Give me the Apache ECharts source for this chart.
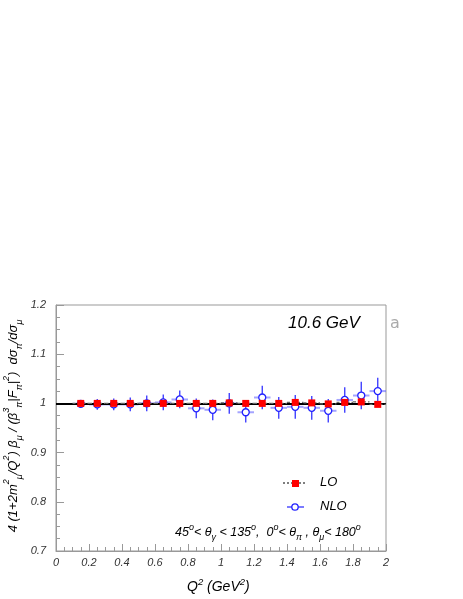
<!DOCTYPE html>
<html>
<head>
<meta charset="utf-8">
<script src="https://cdn.jsdelivr.net/npm/echarts@6/dist/echarts.min.js"></script>
<style>
html,body{margin:0;padding:0;background:#fff;}
#c{width:463px;height:599px;}
</style>
</head>
<body>
<div id="c"></div>
<script>
// ---- data ----
const q2 = [0.15,0.25,0.35,0.45,0.55,0.65,0.75,0.85,0.95,1.05,1.15,1.25,1.35,1.45,1.55,1.65,1.75,1.85,1.95];
const binHalfWidth = 0.05;
const loVals  = [1.000,1.000,1.000,1.000,1.000,1.000,1.000,1.000,1.000,1.001,1.000,1.000,1.000,1.002,1.001,0.999,1.002,1.003,0.998];
const loErr   = [0.002,0.002,0.002,0.002,0.002,0.002,0.002,0.002,0.002,0.002,0.002,0.002,0.002,0.002,0.002,0.002,0.002,0.002,0.002];
const nloVals = [0.999,0.998,0.998,0.998,1.000,1.002,1.008,0.990,0.987,1.000,0.982,1.012,0.991,0.993,0.991,0.985,1.007,1.016,1.025];
const nloErr  = [0.008,0.011,0.012,0.014,0.016,0.016,0.018,0.020,0.021,0.021,0.021,0.024,0.022,0.024,0.024,0.024,0.026,0.028,0.027];
const refLevel = 1.0;
const xTickLabels = ['0','0.2','0.4','0.6','0.8','1','1.2','1.4','1.6','1.8','2'];
const yTickLabels = ['0.7','0.8','0.9','1','1.1','1.2'];

const FONT = '"Liberation Sans", Arial, sans-serif';
const chart = echarts.init(document.getElementById('c'), null, {renderer:'canvas'});

const nloData = q2.map((x,i)=>[x, nloVals[i], nloErr[i]]);
const loData  = q2.map((x,i)=>[x, loVals[i], loErr[i]]);

function errRender(hColor, hWidth, hDash, vColor, vWidth){
  return function(params, api){
    const x = api.value(0), y = api.value(1), e = api.value(2);
    const l = api.coord([x - binHalfWidth, y]);
    const r = api.coord([x + binHalfWidth, y]);
    const t = api.coord([x, y + e]);
    const b = api.coord([x, y - e]);
    return {type:'group', children:[
      {type:'line', shape:{x1:l[0],y1:l[1],x2:r[0],y2:r[1]}, style:{stroke:hColor, lineWidth:hWidth, lineDash:hDash}},
      {type:'line', shape:{x1:t[0],y1:t[1],x2:b[0],y2:b[1]}, style:{stroke:vColor, lineWidth:vWidth}}
    ]};
  };
}

const labelStyle = {fontFamily:FONT, fontStyle:'italic', fontSize:11, color:'#333'};

const option = {
  animation:false,
  grid:{left:56, top:305, right:77, bottom:48, show:true, borderColor:'#999', borderWidth:1, backgroundColor:'transparent'},
  xAxis:{
    type:'value', min:0, max:2, interval:0.2,
    axisLine:{show:true, lineStyle:{color:'#999'}},
    axisTick:{show:true, inside:true, length:7, lineStyle:{color:'#999'}},
    minorTick:{show:true, splitNumber:4, length:4, lineStyle:{color:'#999'}},
    splitLine:{show:false},
    axisLabel:Object.assign({margin:6, formatter:(v)=>{const i=Math.round(v/0.2);return xTickLabels[i]!==undefined?xTickLabels[i]:'';}}, labelStyle)
  },
  yAxis:{
    type:'value', min:0.7, max:1.2, interval:0.1,
    axisLine:{show:true, lineStyle:{color:'#999'}},
    axisTick:{show:true, inside:true, length:8, lineStyle:{color:'#999'}},
    minorTick:{show:true, splitNumber:4, length:4, lineStyle:{color:'#999'}},
    splitLine:{show:false},
    axisLabel:Object.assign({margin:10, formatter:(v)=>{const i=Math.round((v-0.7)/0.1);return yTickLabels[i]!==undefined?yTickLabels[i]:'';}}, labelStyle)
  },
  series:[
    {type:'custom', name:'NLO bars', data:nloData, renderItem:errRender('rgba(90,90,255,0.55)',2,null,'#3333ff',1.3), z:2, silent:true},
    {type:'scatter', name:'NLO', data:q2.map((x,i)=>[x,nloVals[i]]), symbol:'circle', symbolSize:7,
      itemStyle:{color:'#fff', borderColor:'#2222ff', borderWidth:1.3, opacity:1}, z:3},
    {type:'line', name:'ref', data:[], z:4,
      markLine:{silent:true, symbol:['none','none'], label:{show:false},
        lineStyle:{color:'#000', width:2, type:'solid'}, data:[{yAxis:refLevel}]}},
    {type:'custom', name:'LO bars', data:loData, renderItem:errRender('#666',1.2,[3,2],'#666',1), z:5, silent:true},
    {type:'scatter', name:'LO', data:q2.map((x,i)=>[x,loVals[i]]), symbol:'rect', symbolSize:7,
      itemStyle:{color:'#ff0000', opacity:1}, z:6}
  ],
  graphic:[
    // energy label
    {type:'text', left:288, top:315, style:{text:'10.6 GeV', fontFamily:FONT, fontStyle:'italic', fontSize:17, fill:'#000'}},
    {type:'text', left:390, top:316, style:{text:'a', fontFamily:'"DejaVu Sans", sans-serif', fontSize:16, fill:'#aaa'}},
    // legend LO
    {type:'line', shape:{x1:283,y1:483,x2:307,y2:483}, style:{stroke:'#000', lineWidth:1, lineDash:[2,2]}},
    {type:'rect', shape:{x:292,y:480,width:7,height:7}, style:{fill:'#ff0000'}},
    {type:'text', left:320, top:476, style:{text:'LO', fontFamily:FONT, fontStyle:'italic', fontSize:13, fill:'#000'}},
    // legend NLO
    {type:'line', shape:{x1:287,y1:507,x2:304,y2:507}, style:{stroke:'#3333ff', lineWidth:1.3}},
    {type:'circle', shape:{cx:295,cy:507,r:3.2}, style:{fill:'#fff', stroke:'#2222ff', lineWidth:1.3}},
    {type:'text', left:320, top:500, style:{text:'NLO', fontFamily:FONT, fontStyle:'italic', fontSize:13, fill:'#000'}},
    // angular cuts
    {type:'text', left:175, top:523, style:{
      text:'45{sup|o}< θ{sub|γ} < 135{sup|o},  0{sup|o}< θ{sub|π} , θ{sub|μ}< 180{sup|o}',
      fontFamily:FONT, fontStyle:'italic', fontSize:12.5, fill:'#000', lineHeight:19,
      rich:{
        sup:{fontFamily:FONT, fontStyle:'italic', fontSize:9, verticalAlign:'top', lineHeight:19, padding:[0,0,6,0]},
        sub:{fontFamily:FONT, fontStyle:'italic', fontSize:9, verticalAlign:'bottom', lineHeight:19, padding:[5,0,0,0]}
      }}},
    // x title
    {type:'text', left:187, top:577, style:{
      text:'Q{sup|2} (GeV{sup|2})', fontFamily:FONT, fontStyle:'italic', fontSize:14, fill:'#000', lineHeight:20,
      rich:{sup:{fontFamily:FONT, fontStyle:'italic', fontSize:9.5, verticalAlign:'top', lineHeight:20, padding:[0,0,6,0]}}}},
    // y title (rotated)
    {type:'text', x:13, y:426, rotation:Math.PI/2, style:{
      text:'4 (1+2m{sup|2}{sub|μ}/Q{sup|2}) β{sub|μ} / (β{sup|3}{sub|π}|F{sub|π}|{sup|2})  dσ{sub|π}/dσ{sub|μ}',
      fontFamily:FONT, fontStyle:'italic', fontSize:13, fill:'#000', lineHeight:22,
      align:'center', verticalAlign:'middle',
      rich:{
        sup:{fontFamily:FONT, fontStyle:'italic', fontSize:9, verticalAlign:'top', lineHeight:22, padding:[0,0,7,0]},
        sub:{fontFamily:FONT, fontStyle:'italic', fontSize:9, verticalAlign:'bottom', lineHeight:22, padding:[6,0,0,0]}
      }}}
  ]
};
chart.setOption(option);
</script>
</body>
</html>
